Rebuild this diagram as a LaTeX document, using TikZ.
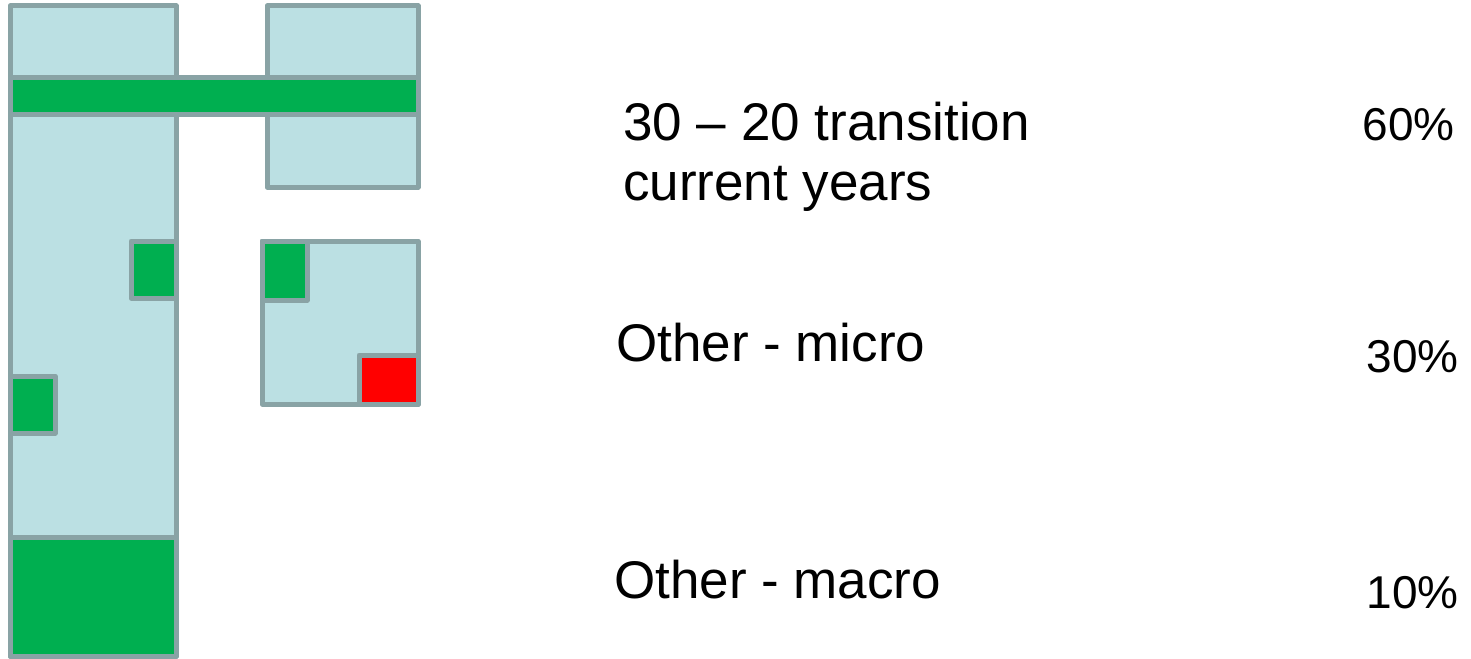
\documentclass[tikz,border=0pt]{standalone}
\usepackage{fontspec}
\setmainfont{Liberation Sans}
\usetikzlibrary{positioning}
\definecolor{paleblue}{HTML}{BBE0E3}
\definecolor{rimgrey}{HTML}{89A3A5}
\definecolor{cellgreen}{HTML}{00AF50}
\definecolor{cellred}{HTML}{FF0000}
\newcommand{\cell}[5] % x1, y1, x2, y2 in px, fill colour
{
	\filldraw[fill=#5, draw=rimgrey, line width=5pt, line join=round] (#1,#2) rectangle (#3,#4);
}

\begin{document}
\begin{tikzpicture}[x=1pt, y=-1pt, every node/.style={inner sep=0pt},
	txt/.style={font=\fontsize{53}{60}\selectfont, align=left, anchor=base west},
	pct/.style={font=\fontsize{46}{54}\selectfont, anchor=base east}]
	% page: 1471 x 658 px
	\useasboundingbox (0,0) rectangle (1471,658);
	
	% light blue blocks
	\cell{10}{6}{176}{656}{paleblue};
	\cell{267}{6}{418}{187}{paleblue};
	\cell{262}{241}{418}{404}{paleblue};
	
	% bar across both columns
	\cell{10}{78}{418}{115}{cellgreen};
	
	% small cells
	\cell{131}{241}{176}{298}{cellgreen};
	\cell{10}{376}{55}{433}{cellgreen};
	\cell{262}{241}{307}{300}{cellgreen};
	\cell{359}{355}{418}{404}{cellred};
	
	% bottom block
	\cell{10}{537}{176}{656}{cellgreen};
	
	% labels (base = last line)
	\node[txt] (transition) at (623,200) {30 -- 20 transition\\current years};
	\node[txt] (micro) at (616,361) {Other - micro};
	\node[txt] (macro) at (614,598) {Other - macro};
	
	% shares
	\node[pct] (share60) at (1455,140) {60\%};
	\node[pct] (share30) at (1459,372) {30\%};
	\node[pct] (share10) at (1459,608) {10\%};
	
\end{tikzpicture}
\end{document}
